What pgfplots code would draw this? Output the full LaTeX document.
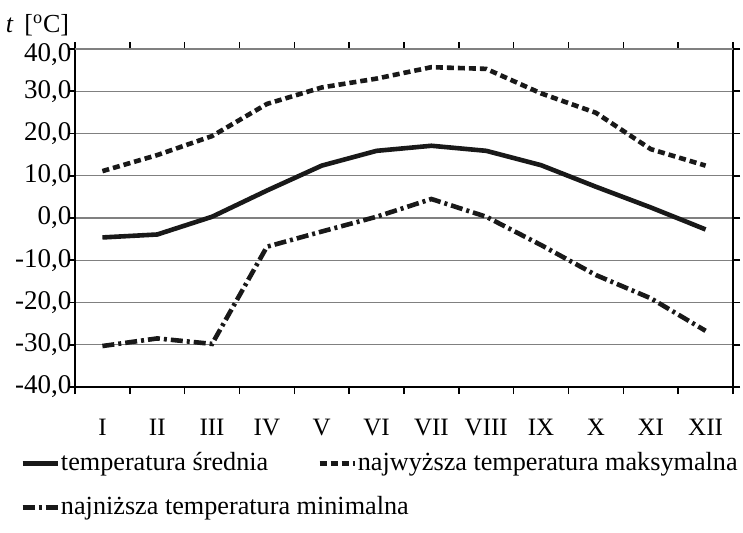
\documentclass[border=0pt]{standalone}
\usepackage{pgfplots}
\pgfplotsset{compat=1.18}
\usepackage{fontspec}
\setmainfont{Liberation Serif}
\begin{document}
\fontsize{12.5}{15}\selectfont
\begin{tikzpicture}
\useasboundingbox (-37.5pt,-72.5pt) rectangle (334pt,193.5pt);
\begin{axis}[
  scale only axis,
  clip mode=individual,
  width=329pt, height=169pt,
  xmin=0.5, xmax=12.5,
  ymin=-40, ymax=40,
  xtick={1,...,12},
  xticklabels={I,II,III,IV,V,VI,VII,VIII,IX,X,XI,XII},
  minor xtick={0.5,1.5,...,12.5},
  ytick={-40,-30,...,30},
  extra y ticks={40},
  extra y tick style={yticklabel style={yshift=-3pt}},
  tick align=outside,
  major x tick style={draw=none},
  minor tick length=3.5pt,
  major tick length=3.5pt,
  tick style={black, line width=0.8pt},
  axis line style={black, line width=0.8pt},
  ymajorgrids,
  major grid style={gray, line width=0.6pt},
  /pgf/number format/assume math mode=true,
  yticklabel={\pgfmathprintnumber[fixed,fixed zerofill,precision=1,use comma]{\tick}},
  xticklabel style={font=\fontsize{12.5}{15}\selectfont, yshift=-8pt},
  yticklabel style={font=\fontsize{13.5}{16}\selectfont, xshift=6pt},
  legend columns=2,
  legend cell align=left,
  legend style={draw=none, fill=none, at={(axis description cs:-0.0836,-0.19)}, anchor=north west,
    font=\fontsize{13.1}{16}\selectfont, inner sep=0pt, row sep=10pt,
    /tikz/every even column/.append style={column sep=24pt},
    nodes={inner sep=0.5pt}},
  legend image code/.code={\draw[#1] (0pt,0pt) -- (17.5pt,0pt);},
]
\addplot[black!90, line width=2.3pt] coordinates {
(1,-4.6) (2,-3.9) (3,0.3) (4,6.5) (5,12.4) (6,15.9) (7,17.1) (8,15.9) (9,12.5) (10,7.4) (11,2.5) (12,-2.7)};
\addlegendentry{temperatura średnia}
\addplot[black!90, line width=2.3pt, dash pattern=on 3.5pt off 2pt] coordinates {
(1,11.1) (2,14.9) (3,19.4) (4,27.0) (5,30.9) (6,33.0) (7,35.7) (8,35.3) (9,29.5) (10,24.9) (11,16.3) (12,12.4)};
\addlegendentry{najwyższa temperatura maksymalna}
\addplot[black!90, line width=2.3pt, dash pattern=on 6pt off 2pt on 1.5pt off 2pt] coordinates {
(1,-30.3) (2,-28.5) (3,-29.8) (4,-6.8) (5,-3.2) (6,0.3) (7,4.5) (8,0.3) (9,-6.4) (10,-13.5) (11,-19.0) (12,-26.7)};
\addlegendentry{\rlap{najniższa temperatura minimalna}}
\node[anchor=center, font=\fontsize{13}{16}\selectfont] at (axis description cs:-0.057,1.07) {\textit{t}\, [\textsuperscript{o}C]};
\end{axis}
\end{tikzpicture}
\end{document}
